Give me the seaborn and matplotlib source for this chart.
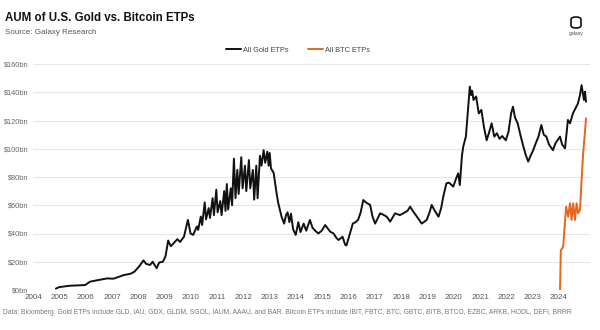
import numpy as np
import pandas as pd
import matplotlib
matplotlib.use("Agg")
import matplotlib.pyplot as plt
import seaborn as sns
from matplotlib.patches import FancyBboxPatch
from matplotlib.lines import Line2D

# ---------------- data ----------------
gold_years = [
    2004.87, 2004.99, 2005.38, 2005.78, 2005.98, 2006.17, 2006.47, 2006.82, 2007.06, 2007.46,
    2007.71, 2007.86, 2008.05, 2008.20, 2008.30, 2008.45, 2008.55, 2008.70, 2008.80, 2008.94,
    2009.04, 2009.14, 2009.24, 2009.34, 2009.49, 2009.59, 2009.74, 2009.89, 2009.99, 2010.09,
    2010.23, 2010.28,
    2010.38, 2010.43, 2010.53, 2010.58, 2010.68, 2010.73, 2010.83, 2010.88, 2010.97, 2011.02,
    2011.12, 2011.17, 2011.27, 2011.32, 2011.37, 2011.42, 2011.52, 2011.57, 2011.64, 2011.70,
    2011.77, 2011.82, 2011.92, 2011.97, 2012.06, 2012.11, 2012.21, 2012.26, 2012.36, 2012.41,
    2012.49, 2012.54, 2012.63, 2012.69, 2012.77, 2012.83, 2012.91, 2012.96, 2013.00, 2013.05,
    2013.15, 2013.25, 2013.32, 2013.45, 2013.55, 2013.62, 2013.68, 2013.75, 2013.81, 2013.89,
    2013.99, 2014.09, 2014.17, 2014.29, 2014.39, 2014.53, 2014.63, 2014.73, 2014.85, 2014.98,
    2015.11, 2015.23, 2015.30, 2015.43, 2015.53, 2015.62, 2015.77, 2015.87, 2015.92, 2016.02,
    2016.16, 2016.26, 2016.36, 2016.46, 2016.56, 2016.66, 2016.82, 2016.91, 2017.01, 2017.20,
    2017.35, 2017.45, 2017.58, 2017.77, 2017.95, 2018.08, 2018.24, 2018.34, 2018.44, 2018.60,
    2018.78, 2018.97, 2019.08, 2019.16, 2019.28, 2019.42, 2019.52, 2019.60, 2019.72, 2019.82,
    2019.98, 2020.11, 2020.17, 2020.23, 2020.31, 2020.36, 2020.46, 2020.53, 2020.61, 2020.66,
    2020.70, 2020.75, 2020.85, 2020.95, 2021.05, 2021.15, 2021.25, 2021.35, 2021.44, 2021.54,
    2021.64, 2021.74, 2021.84, 2021.98, 2022.08, 2022.18, 2022.25, 2022.33, 2022.43, 2022.53,
    2022.63, 2022.73, 2022.83, 2022.92, 2023.02, 2023.12, 2023.22, 2023.33, 2023.42, 2023.52,
    2023.62, 2023.77, 2023.87, 2024.04, 2024.12, 2024.23, 2024.34, 2024.42, 2024.53, 2024.72,
    2024.80, 2024.86, 2024.95, 2024.99, 2025.03,
]
gold_aum = [
    1.0, 2.0, 3.0, 3.3, 3.5, 5.9, 7.0, 8.2, 8.0, 10.6,
    11.5, 13.0, 17.0, 21.0, 18.5, 17.7, 20.0, 15.4, 19.5, 20.0,
    24.0, 35.0, 31.0, 33.0, 36.0, 34.0, 37.7, 49.6, 40.0, 39.0,
    45.0, 42.5,
    52.0, 46.0, 62.0, 50.0, 58.0, 51.0, 65.0, 53.0, 71.0, 55.0,
    63.0, 53.0, 70.0, 56.0, 75.0, 57.0, 72.0, 60.0, 93.0, 65.0,
    85.0, 68.0, 94.0, 72.0, 88.0, 70.0, 92.0, 72.0, 85.0, 64.0,
    88.0, 65.0, 95.0, 88.0, 99.0, 90.0, 98.0, 88.0, 97.0, 86.0,
    83.0, 70.0, 62.0, 52.0, 47.0, 53.0, 55.0, 48.0, 54.0, 43.0,
    39.0, 48.0, 41.0, 47.0, 42.0, 49.6, 44.0, 42.0, 40.0, 42.0,
    46.0, 43.0, 41.3, 40.0, 37.0, 35.4, 37.7, 32.0, 31.5, 38.0,
    47.0, 48.0, 49.6, 55.0, 63.7, 62.0, 60.2, 52.0, 47.0, 54.3,
    53.0, 51.9, 48.4, 54.3, 53.0, 54.3, 56.0, 59.0, 56.0, 51.9,
    47.0, 49.6, 55.0, 60.2, 56.0, 51.9, 58.0, 66.0, 75.5, 76.0,
    73.2, 80.0, 82.6, 74.3, 95.0, 101.5, 108.6, 125.0, 144.0, 138.0,
    141.0, 134.5, 137.0, 125.0, 127.5, 115.0, 106.0, 112.0, 118.0, 108.6,
    111.0, 107.0, 109.0, 106.0, 112.0, 125.0, 129.8, 122.0, 118.0, 110.0,
    102.7, 96.0, 90.9, 95.0, 99.0, 104.0, 108.6, 116.8, 110.0, 108.6,
    103.0, 99.0, 104.0, 108.6, 103.0, 100.3, 120.4, 118.0, 125.0, 132.0,
    138.0, 145.0, 134.5, 140.4, 133.3,
]
btc_years = [2024.04, 2024.07, 2024.16, 2024.27, 2024.35, 2024.42, 2024.48, 2024.54,
             2024.61, 2024.67, 2024.73, 2024.80, 2024.86, 2024.92, 2025.03]
btc_aum = [0.0, 28.0, 30.7, 59.0, 51.9, 61.4, 49.6, 61.4,
           49.6, 61.4, 54.3, 56.7, 77.9, 96.8, 121.6]

series_names = ["All Gold ETPs", "All BTC ETPs"]
x_tick_labels = [str(y) for y in range(2004, 2025)]
y_tick_values = [0, 20, 40, 60, 80, 100, 120, 140, 160]
y_tick_labels = [f"${v}bn" for v in y_tick_values]

title = "AUM of U.S. Gold vs. Bitcoin ETPs"
subtitle = "Source: Galaxy Research"
footnote = ("Data: Bloomberg. Gold ETPs include GLD, IAU, GDX, GLDM, SGOL, IAUM, AAAU, and BAR. "
            "Bitcoin ETPs include IBIT, FBTC, BTC, GBTC, BITB, BTCO, EZBC, ARKB, HODL, DEFI, BRRR")

df = pd.concat([
    pd.DataFrame({"year": gold_years, "aum": gold_aum, "series": series_names[0]}),
    pd.DataFrame({"year": btc_years, "aum": btc_aum, "series": series_names[1]}),
], ignore_index=True)

# ---------------- styling ----------------
sns.set_theme(style="white")
plt.rcParams["font.family"] = ["Liberation Sans", "DejaVu Sans"]

fig = plt.figure(figsize=(6.0, 3.3), dpi=100)
ax = fig.add_axes([33 / 600, 40 / 330, 557 / 600, 226 / 330])

palette = {series_names[0]: "#111111", series_names[1]: "#E4661F"}
sns.lineplot(data=df, x="year", y="aum", hue="series", palette=palette,
             linewidth=1.4, ax=ax, legend=False, estimator=None, sort=False)

ax.set_xlim(2004, 2025.18)
ax.set_ylim(0, 160)
ax.set_xticks(range(2004, 2025))
ax.set_xticklabels(x_tick_labels, fontsize=5.8, color="#555555")
ax.set_yticks(y_tick_values)
ax.set_yticklabels(y_tick_labels, fontsize=5.3, color="#666666")
ax.tick_params(axis="both", length=0, pad=3)
ax.set_xlabel("")
ax.set_ylabel("")
ax.grid(axis="y", color="#e6e6e6", linewidth=0.8)
ax.set_axisbelow(True)
for s in ax.spines.values():
    s.set_visible(False)

# legend (manual placement, above plot)
handles = [Line2D([0], [0], color=palette[n], lw=1.4) for n in series_names]
fig.legend(handles, series_names, loc="center", bbox_to_anchor=(0.497, 1 - 50 / 330),
           ncol=2, frameon=False, fontsize=5.3, handlelength=2.0, handletextpad=0.3,
           columnspacing=2.6, labelcolor="#444444")

# titles
fig.text(5 / 600, 1 - 18 / 330, title, fontsize=8.3, fontweight="bold", color="#111111",
         va="center", ha="left")
fig.text(5 / 600, 1 - 32 / 330, subtitle, fontsize=5.8, color="#555555", va="center", ha="left")
fig.text(3 / 600, 1 - 313 / 330, footnote, fontsize=4.9, color="#777777", va="center", ha="left")

# logo
logo = FancyBboxPatch((571 / 600, 1 - 28 / 330), 10 / 600, 11 / 330,
                      boxstyle="round,pad=0.0,rounding_size=0.008",
                      transform=fig.transFigure, fill=False, edgecolor="#111111", linewidth=1.2)
fig.add_artist(logo)
fig.text(576 / 600, 1 - 34 / 330, "galaxy", fontsize=3.6, color="#444444", ha="center", va="center")

fig.savefig("out.png", dpi=100)
